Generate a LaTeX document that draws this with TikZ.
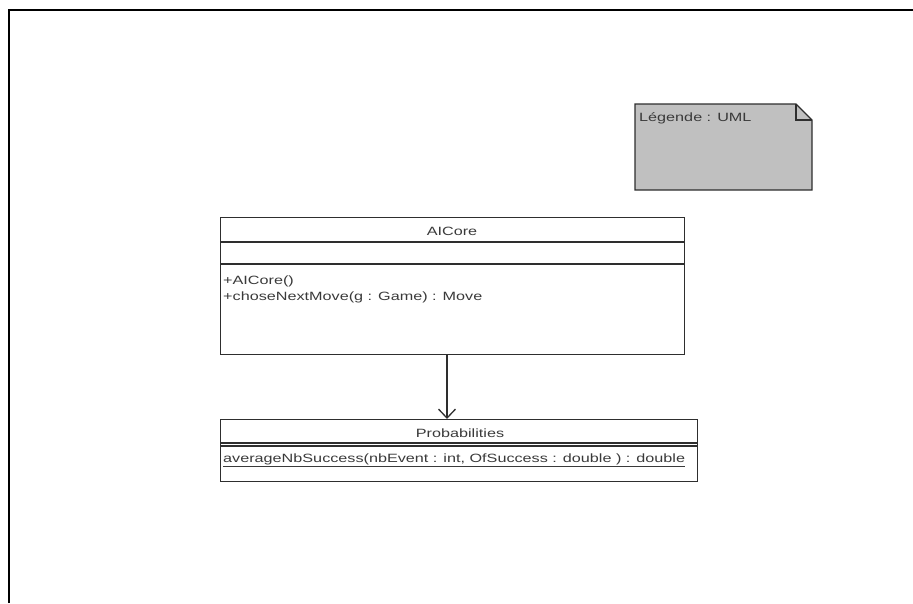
\documentclass[tikz,border=0pt]{standalone}
\usepackage{fontspec}
\setmainfont[FakeStretch=1.35]{Liberation Sans}
\usetikzlibrary{arrows.meta}
\definecolor{linegray}{HTML}{2E2E2E}
\definecolor{textgray}{HTML}{3A3A3A}
\definecolor{notefill}{HTML}{C0C0C0}
\begin{document}
\begin{tikzpicture}[x=1pt,y=-1pt,
  classbox/.style={draw=linegray, line width=1.3pt, fill=white, inner sep=0pt, anchor=north west},
  sep/.style={draw=linegray, line width=1.3pt},
  lbl/.style={text=textgray, font=\fontsize{12}{14}\selectfont, inner sep=0pt},
  assoc/.style={draw=linegray, line width=1.3pt, -{Straight Barb[length=9pt,width=17pt,line width=1.3pt]}}]
\useasboundingbox (0,0) rectangle (913,603);
% outer frame
\draw[line width=2pt, black] (9,603) -- (9,10) -- (913,10);

% note
\filldraw[fill=notefill, draw=linegray, line width=1.3pt, line join=miter]
  (635,104) -- (796,104) -- (812,120) -- (812,190) -- (635,190) -- cycle;
\draw[draw=linegray, line width=1.3pt] (796,104) -- (796,120) -- (812,120);
\node[lbl, anchor=base west] (legend) at (639,121) {Légende : UML};

% class AICore
\node[classbox, minimum width=464pt, minimum height=137pt] (aicore) at (220,217) {};
\draw[sep] ([yshift=-25pt]aicore.north west) -- ([yshift=-25pt]aicore.north east);
\draw[sep] ([yshift=-47pt]aicore.north west) -- ([yshift=-47pt]aicore.north east);
\node[lbl, anchor=base] (aicoreName) at (452,235) {AICore};
\node[lbl, anchor=base west] (aicoreM1) at (223,284) {+AICore()};
\node[lbl, anchor=base west] (aicoreM2) at (223,300) {+choseNextMove(g : Game) : Move};

% class Probabilities
\node[classbox, minimum width=477pt, minimum height=62pt] (prob) at (220,419) {};
\draw[sep] ([yshift=-24pt]prob.north west) -- ([yshift=-24pt]prob.north east);
\draw[sep] ([yshift=-27pt]prob.north west) -- ([yshift=-27pt]prob.north east);
\node[lbl, anchor=base] (probName) at (460,437) {Probabilities};
\node[lbl, anchor=base west] (probM1) at (223,462) {\underline{averageNbSuccess(nbEvent : int, OfSuccess : double ) : double}};

% association
\coordinate (ax) at (447,0);
\draw[assoc] (aicore.south -| ax) -- (prob.north -| ax);
\end{tikzpicture}
\end{document}
